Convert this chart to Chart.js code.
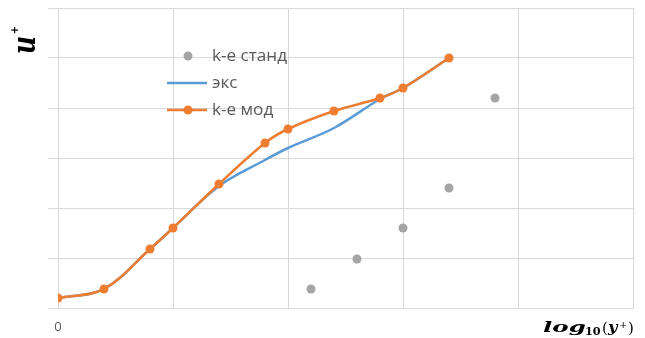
<!DOCTYPE html>
<html>
<head>
<meta charset="utf-8">
<script src="https://cdn.jsdelivr.net/npm/chart.js@4.4.1/dist/chart.umd.min.js"></script>
<style>
  html, body { margin: 0; padding: 0; background: #ffffff; }
  #wrap { width: 645px; height: 338px; position: relative; }
  canvas { display: block; }
</style>
</head>
<body>
<div id="wrap"><canvas id="chart" width="645" height="338"></canvas></div>
<script>
// log10(y+) positions of the k-e mod and experimental curves
const logYPlus = [0, 0.4, 0.8, 1.0, 1.4, 1.8, 2.0, 2.4, 2.8, 3.0, 3.4];
// u+ for the modified k-e model
const uPlusMod = [1.0, 1.9, 5.9, 8.0, 12.4, 16.5, 17.9, 19.7, 21.0, 22.0, 25.0];
// u+ experimental
const uPlusExp = [1.0, 1.9, 5.9, 8.0, 12.2, 14.8, 16.0, 18.0, 20.9, 22.0, 25.0];
// standard k-e model points
const logYPlusStand = [2.2, 2.6, 3.0, 3.4, 3.8];
const uPlusStand = [1.9, 4.9, 8.0, 12.0, 21.0];

const seriesLabels = ['k-e станд', 'экс', 'k-e мод'];
const xTickLabels = { 0: '0' };

const GREY = '#A5A5A5';
const BLUE = '#5B9BD5';
const ORANGE = '#ED7D31';
const GRID = '#D9D9D9';
const TEXT = '#595959';

const toPoints = (xs, ys) => xs.map((x, i) => ({ x: x, y: ys[i] }));

// Legend drawn inside the plot area, to the left of the curves
const innerLegend = {
  id: 'innerLegend',
  afterDatasetsDraw(chart) {
    const ctx = chart.ctx;
    const rows = [56, 83, 110];
    const lineX0 = 167, lineX1 = 207, markX = 188, textX = 212;
    ctx.save();
    ctx.font = '16px "Open Sans"';
    ctx.textBaseline = 'middle';
    ctx.textAlign = 'left';
    const ref = ctx.measureText(chart.data.datasets[0].label).width;
    const stretch = 75 / ref;
    chart.data.datasets.forEach((ds, i) => {
      const y = rows[i];
      if (ds.showLine !== false) {
        ctx.strokeStyle = ds.borderColor;
        ctx.lineWidth = ds.borderWidth;
        ctx.beginPath();
        ctx.moveTo(lineX0, y);
        ctx.lineTo(lineX1, y);
        ctx.stroke();
      }
      if (ds.pointRadius > 0) {
        ctx.fillStyle = ds.pointBackgroundColor;
        ctx.beginPath();
        ctx.arc(markX, y, ds.pointRadius, 0, Math.PI * 2);
        ctx.fill();
      }
      ctx.fillStyle = TEXT;
      ctx.save();
      ctx.translate(textX, y);
      ctx.scale(stretch, 1);
      ctx.fillText(ds.label, 0, 0);
      ctx.restore();
    });
    ctx.restore();
  }
};

// Axis titles with sub/superscripts
const axisTitles = {
  id: 'axisTitles',
  afterDraw(chart) {
    const ctx = chart.ctx;
    ctx.save();
    ctx.fillStyle = '#000000';

    // vertical title: u+ rotated, reading upward
    ctx.save();
    ctx.translate(35, 53);
    ctx.rotate(-Math.PI / 2);
    ctx.font = 'italic bold 28px "DejaVu Serif"';
    ctx.textBaseline = 'alphabetic';
    const mu = ctx.measureText('u');
    const uw = mu.actualBoundingBoxRight + mu.actualBoundingBoxLeft;
    const uh = mu.actualBoundingBoxAscent;
    ctx.save();
    ctx.scale(16 / uw, 17 / uh);
    ctx.fillText('u', mu.actualBoundingBoxLeft, 0);
    ctx.restore();
    ctx.font = 'bold 10px "DejaVu Sans"';
    ctx.textAlign = 'center';
    ctx.textBaseline = 'middle';
    ctx.fillText('+', 23, -20);
    ctx.restore();

    // horizontal title: log10(y+)
    const pieces = [
      { t: 'log', x: 543, w: 42, font: 'italic bold 15px "DejaVu Serif"', base: 332 },
      { t: '10', x: 586, w: 15, font: 'bold 11px "DejaVu Serif"', base: 335 },
      { t: '(', x: 603, w: 4, font: '15px "DejaVu Serif"', base: 333 },
      { t: 'y', x: 607, w: 12, font: 'italic bold 15px "DejaVu Serif"', base: 332 },
      { t: '+', x: 620, w: 7, font: '10px "DejaVu Serif"', base: 328 },
      { t: ')', x: 629, w: 4, font: '15px "DejaVu Serif"', base: 333 }
    ];
    ctx.textBaseline = 'alphabetic';
    ctx.textAlign = 'left';
    pieces.forEach(p => {
      ctx.font = p.font;
      const m = ctx.measureText(p.t);
      const nat = m.actualBoundingBoxRight + m.actualBoundingBoxLeft;
      ctx.save();
      ctx.translate(p.x, p.base);
      ctx.scale(p.w / nat, 1);
      ctx.fillText(p.t, m.actualBoundingBoxLeft, 0);
      ctx.restore();
    });
    ctx.restore();
  }
};

new Chart(document.getElementById('chart'), {
  type: 'line',
  data: {
    datasets: [
      {
        label: seriesLabels[0],
        data: toPoints(logYPlusStand, uPlusStand),
        showLine: false,
        borderColor: GREY,
        borderWidth: 0,
        pointRadius: 4.5,
        pointBackgroundColor: GREY,
        pointBorderWidth: 0,
        order: 2
      },
      {
        label: seriesLabels[1],
        data: toPoints(logYPlus, uPlusExp),
        borderColor: BLUE,
        borderWidth: 2.5,
        pointRadius: 0,
        tension: 0.35,
        fill: false,
        order: 1
      },
      {
        label: seriesLabels[2],
        data: toPoints(logYPlus, uPlusMod),
        borderColor: ORANGE,
        borderWidth: 2.5,
        pointRadius: 4.5,
        pointBackgroundColor: ORANGE,
        pointBorderWidth: 0,
        tension: 0.35,
        fill: false,
        order: 0
      }
    ]
  },
  options: {
    responsive: false,
    animation: false,
    devicePixelRatio: 1,
    layout: { padding: { left: 48, right: 12, top: 8, bottom: -7.6 } },
    plugins: { legend: { display: false }, tooltip: { enabled: false } },
    scales: {
      x: {
        type: 'linear',
        min: 0,
        max: 5,
        ticks: {
          stepSize: 1,
          autoSkip: false,
          maxRotation: 0,
          padding: 11,
          color: TEXT,
          font: { family: '"Open Sans"', size: 13 },
          callback: v => (xTickLabels[v] !== undefined ? xTickLabels[v] : '')
        },
        grid: { color: GRID, lineWidth: 1, drawTicks: false },
        border: { color: GRID, width: 1 }
      },
      y: {
        min: 0,
        max: 30,
        ticks: { stepSize: 5, display: false },
        grid: { color: GRID, lineWidth: 1, drawTicks: true, tickLength: 10 },
        border: { color: GRID, width: 1 }
      }
    }
  },
  plugins: [innerLegend, axisTitles]
});
</script>
</body>
</html>
